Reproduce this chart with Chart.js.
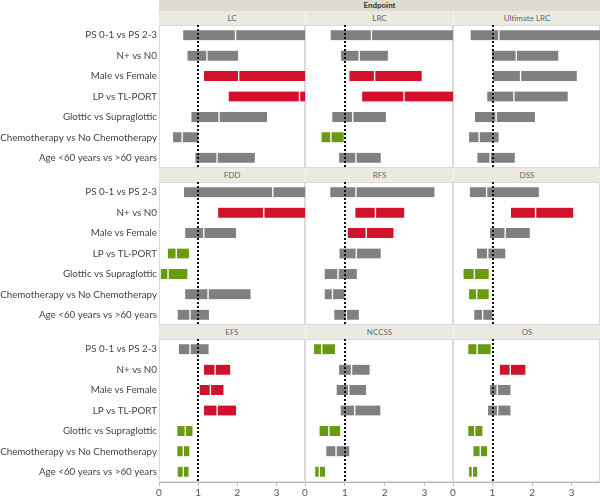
<!DOCTYPE html>
<html>
<head>
<meta charset="utf-8">
<script src="https://cdn.jsdelivr.net/npm/chart.js@4.4.1/dist/chart.umd.min.js"></script>
<style>
  body { margin: 0; background: #fff; width: 600px; height: 500px; overflow: hidden; position: relative; font-family: Lato, "Open Sans", sans-serif; }
  .strip { position: absolute; background: #ebeae2; color: #666; font-size: 8px; text-align: center; box-sizing: border-box; }
  .head { background: #dedccf; color: #333; font-weight: bold; }
  canvas { position: absolute; }
</style>
</head>
<body>
<script>
// rows of every panel (top to bottom)
const categories = [
  'PS 0-1 vs PS 2-3',
  'N+ vs N0',
  'Male vs Female',
  'LP vs TL-PORT',
  'Glottic vs Supraglottic',
  'Chemotherapy vs No Chemotherapy',
  'Age <60 years vs >60 years'
];
const endpoints = ['LC', 'LRC', 'Ultimate LRC', 'FDD', 'RFS', 'DSS', 'EFS', 'NCCSS', 'OS'];
const xTicks = [0, 1, 2, 3];

// hazard ratio, lower / upper CI; sig: 1 = higher risk, -1 = lower risk, 0 = n.s.
const lc_low  = [0.60, 0.71, 1.13, 1.76, 0.81, 0.34, 0.91];
const lc_hr   = [1.95, 1.22, 2.03, 3.58, 1.53, 0.59, 1.48];
const lc_high = [4.20, 2.03, 4.00, 4.50, 2.77, 1.02, 2.46];
const lc_sig  = [0, 0, 1, 1, 0, 0, 0];

const lrc_low  = [0.63, 0.89, 1.10, 1.42, 0.67, 0.40, 0.84];
const lrc_hr   = [1.67, 1.36, 1.75, 2.49, 1.20, 0.65, 1.28];
const lrc_high = [4.00, 2.10, 2.95, 4.20, 2.05, 0.99, 1.92];
const lrc_sig  = [0, 0, 1, 1, 0, -1, 0];

const ulrc_low  = [0.43, 0.97, 1.00, 0.85, 0.54, 0.39, 0.60];
const ulrc_hr   = [1.16, 1.60, 1.71, 1.54, 1.09, 0.66, 0.94];
const ulrc_high = [4.30, 2.68, 3.15, 2.92, 2.09, 1.17, 1.58];
const ulrc_sig  = [0, 0, 0, 0, 0, 0, 0];

const fdd_low  = [0.62, 1.49, 0.65, 0.21, 0.03, 0.65, 0.46];
const fdd_hr   = [2.90, 2.67, 1.14, 0.44, 0.23, 1.25, 0.79];
const fdd_high = [4.10, 4.40, 1.98, 0.78, 0.74, 2.35, 1.29];
const fdd_sig  = [0, 1, 0, -1, -1, 0, 0];

const rfs_low  = [0.62, 1.25, 1.06, 0.85, 0.48, 0.48, 0.72];
const rfs_hr   = [1.28, 1.77, 1.54, 1.29, 0.83, 0.69, 1.04];
const rfs_high = [3.27, 2.51, 2.24, 1.92, 1.32, 1.01, 1.37];
const rfs_sig  = [0, 1, 1, 0, 0, 0, 0];

const dss_low  = [0.41, 1.45, 0.92, 0.59, 0.25, 0.39, 0.52];
const dss_hr   = [0.85, 2.09, 1.32, 0.88, 0.54, 0.60, 0.75];
const dss_high = [2.19, 3.06, 1.96, 1.34, 0.92, 0.92, 1.01];
const dss_sig  = [0, 1, 0, 0, -1, -1, 0];

const efs_low  = [0.49, 1.13, 1.02, 1.13, 0.45, 0.45, 0.46];
const efs_hr   = [0.79, 1.43, 1.31, 1.48, 0.67, 0.62, 0.62];
const efs_high = [1.28, 1.83, 1.66, 1.98, 0.87, 0.79, 0.77];
const efs_sig  = [0, 1, 1, 1, -1, -1, -1];

const nccss_low  = [0.21, 0.84, 0.78, 0.88, 0.35, 0.52, 0.24];
const nccss_hr   = [0.42, 1.17, 1.10, 1.25, 0.60, 0.78, 0.36];
const nccss_high = [0.77, 1.64, 1.55, 1.91, 0.90, 1.13, 0.52];
const nccss_sig  = [-1, 0, 0, 0, -1, 0, -1];

const os_low  = [0.37, 1.17, 0.92, 0.87, 0.37, 0.50, 0.39];
const os_hr   = [0.61, 1.45, 1.12, 1.13, 0.55, 0.69, 0.49];
const os_high = [0.97, 1.85, 1.47, 1.47, 0.76, 0.88, 0.63];
const os_sig  = [-1, 1, 0, 0, -1, -1, -1];

const panelData = [
  [lc_low, lc_hr, lc_high, lc_sig],
  [lrc_low, lrc_hr, lrc_high, lrc_sig],
  [ulrc_low, ulrc_hr, ulrc_high, ulrc_sig],
  [fdd_low, fdd_hr, fdd_high, fdd_sig],
  [rfs_low, rfs_hr, rfs_high, rfs_sig],
  [dss_low, dss_hr, dss_high, dss_sig],
  [efs_low, efs_hr, efs_high, efs_sig],
  [nccss_low, nccss_hr, nccss_high, nccss_sig],
  [os_low, os_hr, os_high, os_sig]
];

// layout
var plotLeft = [159, 305, 453];
var plotRight = [305, 453, 600];
var plotTop = [25, 182, 339];
var plotH = 143;
var stripH = 14;
var axisH = 18;
var sigColor = function(s) { return s > 0 ? '#d0122c' : (s < 0 ? '#6a9a12' : '#808080'); };

var addDiv = function(cls, text, left, top, width, height) {
  var d = document.createElement('div');
  d.className = cls;
  d.textContent = text;
  d.style.left = left + 'px'; d.style.top = top + 'px';
  d.style.width = width + 'px'; d.style.height = height + 'px';
  d.style.lineHeight = height + 'px';
  document.body.appendChild(d);
  return d;
};

addDiv('strip head', 'Endpoint', 159, 0, 441, 11);

// dotted reference line at HR = 1 plus light panel frame
var refLine = {
  id: 'refLine',
  beforeDatasetsDraw(chart) {
    const { ctx, chartArea: { top, bottom, left, right } } = chart;
    ctx.save();
    ctx.strokeStyle = '#dadada';
    ctx.lineWidth = 1;
    ctx.strokeRect(left + 0.5, top + 0.5, right - left - 1, bottom - top - 1);
    ctx.restore();
  },
  afterDatasetsDraw(chart) {
    const { ctx, chartArea: { top, bottom }, scales: { x } } = chart;
    let px = Math.round(x.getPixelForValue(1));
    ctx.save();
    ctx.strokeStyle = '#111';
    ctx.lineWidth = 2;
    ctx.setLineDash([2, 2]);
    ctx.beginPath();
    ctx.moveTo(px, top);
    ctx.lineTo(px, bottom);
    ctx.stroke();
    ctx.restore();
  }
};

var makePanel = function(i) {
  var col = i % 3, row = Math.floor(i / 3);
  var isLeft = col === 0, isBottom = row === 2;
  var d = panelData[i];
  var low = d[0], hr = d[1], high = d[2], sig = d[3];

  addDiv('strip', endpoints[i], plotLeft[col], plotTop[row] - stripH, plotRight[col] - plotLeft[col], stripH)
    .style.borderLeft = col > 0 ? '1px solid #f6f6f2' : 'none';

  var cLeft = isLeft ? 0 : plotLeft[col] - 5;
  var cW = plotRight[col] - cLeft;
  var cH = plotH + (isBottom ? axisH : 0);
  var canvas = document.createElement('canvas');
  canvas.width = cW; canvas.height = cH;
  canvas.style.left = cLeft + 'px'; canvas.style.top = plotTop[row] + 'px';
  canvas.style.width = cW + 'px'; canvas.style.height = cH + 'px';
  document.body.appendChild(canvas);

  var colors = sig.map(sigColor);
  var common = {
    backgroundColor: colors,
    borderColor: '#fff',
    borderWidth: { left: 1, right: 1, top: 0, bottom: 0 },
    borderSkipped: false,
    barThickness: 10,
    grouped: false,
    clip: 0
  };

  new Chart(canvas, {
    type: 'bar',
    data: {
      labels: categories,
      datasets: [
        Object.assign({ label: 'lower', data: categories.map((c, k) => [low[k], hr[k]]) }, common),
        Object.assign({ label: 'upper', data: categories.map((c, k) => [hr[k], high[k]]) }, common)
      ]
    },
    options: {
      indexAxis: 'y',
      responsive: false,
      animation: false,
      layout: { padding: { left: isLeft ? 0 : 5, right: 0, top: 0, bottom: 0 } },
      plugins: { legend: { display: false }, tooltip: { enabled: false } },
      scales: {
        x: {
          display: isBottom,
          min: 0,
          max: 3.72,
          afterBuildTicks: function(scale) { scale.ticks = xTicks.map(v => ({ value: v })); },
          afterFit: function(scale) {
            if (isBottom) scale.height = axisH;
            scale.paddingLeft = 0; scale.paddingRight = 0;
          },
          ticks: { color: '#555', font: { family: 'Lato', size: 10 }, padding: 1, maxRotation: 0 },
          grid: { display: true, drawOnChartArea: false, drawTicks: true, tickLength: 4, color: '#bdbdbd' },
          border: { display: true, color: '#bdbdbd' }
        },
        y: {
          display: isLeft,
          afterFit: function(scale) {
            scale.width = isLeft ? 159 : 0;
            scale.paddingTop = 0; scale.paddingBottom = 0;
          },
          ticks: { color: '#444', font: { family: 'Lato', size: 9.8 }, padding: 2 },
          grid: { display: false, drawTicks: false },
          border: { display: false }
        }
      }
    },
    plugins: [refLine]
  });
};

for (var i = 0; i < endpoints.length; i++) makePanel(i);
</script>
</body>
</html>
